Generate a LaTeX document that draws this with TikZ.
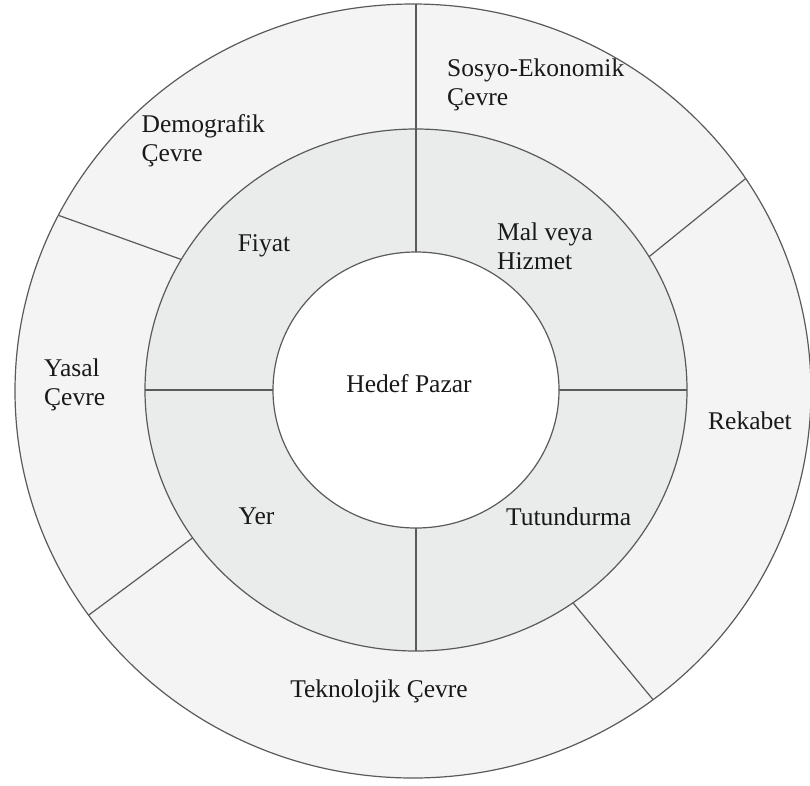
\documentclass[tikz,border=0pt]{standalone}
\usepackage{fontspec}
\setmainfont{Liberation Serif}
\definecolor{outerfill}{HTML}{F4F4F4}
\definecolor{midfill}{HTML}{EAEBEB}
\definecolor{linecol}{HTML}{5A5A5A}
\tikzset{
  ringline/.style={draw=linecol, line width=1.2pt},
  lbl/.style={inner sep=0pt, font=\fontsize{25.5}{29}\selectfont, text=black!90},
  lbll/.style={lbl, align=left, anchor=west}
}
\begin{document}
\begin{tikzpicture}[x=1pt,y=-1pt]
\useasboundingbox (0,0) rectangle (810,785);
% centres
\coordinate (oc) at (413,391);
\coordinate (mc) at (416,390);
% outer ring fill
\fill[outerfill] (oc) ellipse [x radius=398pt, y radius=387pt];
% dividers of the outer ring
\draw[ringline] (416,4) -- (mc);
\draw[ringline] ([shift={(oc)}]207:398 and 387) -- ([shift={(mc)}]210:271 and 261);
\draw[ringline] ([shift={(oc)}]326.7:398 and 387) -- ([shift={(mc)}]329.3:271 and 261);
\draw[ringline] ([shift={(oc)}]144.6:398 and 387) -- ([shift={(mc)}]145.5:271 and 261);
\draw[ringline] ([shift={(oc)}]52.9:398 and 387) -- ([shift={(mc)}]54.6:271 and 261);
% middle ring
\filldraw[fill=midfill, ringline] (mc) ellipse [x radius=271pt, y radius=261pt];
\draw[ringline] (145,390) -- (687,390);
\draw[ringline] (416,129) -- (416,651);
% inner circle
\filldraw[fill=white, ringline] (mc) ellipse [x radius=143pt, y radius=138pt];
% outer outline
\draw[ringline] (oc) ellipse [x radius=398pt, y radius=387pt];
% labels
\node[lbll] (sosyo) at (447,84.5) {Sosyo-Ekonomik\\Çevre};
\node[lbll] (demo) at (141.5,141) {Demografik\\Çevre};
\node[lbll] (mal) at (497,246) {Mal veya\\Hizmet};
\node[lbll] (yasal) at (44,385) {Yasal\\Çevre};
\node[lbl] (fiyat) at (264,246) {Fiyat};
\node[lbl] (hedef) at (409,384) {Hedef Pazar};
\node[lbl] (rekabet) at (750,421) {Rekabet};
\node[lbl] (yer) at (256.5,516.5) {Yer};
\node[lbl] (tutun) at (568.7,516.5) {Tutundurma};
\node[lbl] (tekno) at (379,691.5) {Teknolojik Çevre};
\end{tikzpicture}
\end{document}
